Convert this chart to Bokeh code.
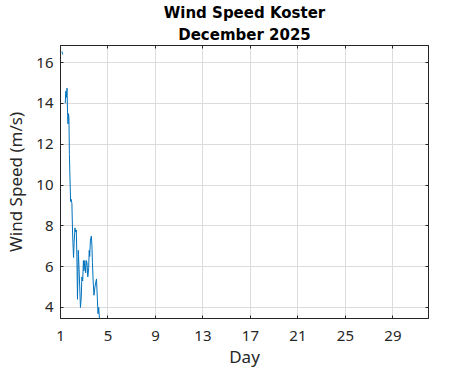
import numpy as np
from bokeh.plotting import figure
from bokeh.models import LinearAxis, Range1d, FixedTicker, Title
from bokeh.embed import file_html
from bokeh.resources import INLINE

nan = float("nan")
days = [1.12, 1.19, nan, 1.40, 1.45, 1.50, 1.55, 1.60, 1.63, 1.67, 1.71, 1.75, 1.80,
        1.85, 1.90, 1.96, 2.02, 2.10, 2.15, 2.22, 2.27, 2.33, 2.38, 2.43, 2.50, 2.55,
        2.62, 2.68, 2.75, 2.80, 2.87, 2.93, 2.98, 3.05, 3.12, 3.18, 3.23, 3.30, 3.37,
        3.42, 3.46, 3.52, 3.60, 3.65, 3.69, 3.75, 3.82, 3.90, 4.03, 4.10, 4.16, 4.22, 4.30]
speed = [16.55, 16.4, nan, 14.0, 14.6, 14.3, 14.75, 13.4, 13.0, 13.5, 13.3, 11.5, 10.3,
         9.2, 9.3, 9.1, 7.6, 6.45, 7.2, 7.9, 7.7, 7.8, 6.5, 4.4, 6.8, 6.1,
         5.0, 4.0, 4.5, 5.5, 5.3, 6.3, 5.8, 6.3, 5.7, 6.3, 6.2, 5.5, 5.9,
         6.8, 6.5, 7.3, 7.5, 7.0, 6.2, 5.3, 4.6, 5.0, 5.4, 4.5, 3.7, 4.0, 3.3]
x_ticks = [1, 5, 9, 13, 17, 21, 25, 29]
y_ticks = [4, 6, 8, 10, 12, 14, 16]

p = figure(width=471, height=371, output_backend="svg", toolbar_location=None,
           x_range=Range1d(1, 32), y_range=Range1d(3.46, 16.84),
           min_border_left=60, min_border_right=43, min_border_top=45, min_border_bottom=53)
p.background_fill_color = "white"
p.border_fill_color = "white"
p.outline_line_color = "#262626"
p.outline_line_width = 1

p.line(days, speed, line_color="#0072BD", line_width=1)

axis_color = "#262626"
for ax in [p.xaxis[0], p.yaxis[0]]:
    ax.major_tick_in = 3
    ax.major_tick_out = 0
    ax.minor_tick_line_color = None
    ax.axis_line_color = axis_color
    ax.major_tick_line_color = axis_color
    ax.major_label_text_color = axis_color
    ax.major_label_text_font = "Noto Sans"
    ax.major_label_text_font_size = "15px"
    ax.axis_label_text_font = "Noto Sans"
    ax.axis_label_text_font_size = "17px"
    ax.axis_label_text_font_style = "normal"
    ax.axis_label_text_color = axis_color

p.xaxis[0].ticker = FixedTicker(ticks=x_ticks)
p.yaxis[0].ticker = FixedTicker(ticks=y_ticks)
p.xaxis[0].axis_label = "Day"
p.yaxis[0].axis_label = "Wind Speed (m/s)"
p.xaxis[0].major_label_standoff = 12
p.yaxis[0].major_label_standoff = 7
p.xaxis[0].axis_label_standoff = 1
p.yaxis[0].axis_label_standoff = 6

blank_x = {t: "" for t in x_ticks}
blank_y = {t: "" for t in y_ticks}
top = LinearAxis(ticker=FixedTicker(ticks=x_ticks), major_tick_in=3, major_tick_out=0,
                 minor_tick_line_color=None, major_label_overrides=blank_x,
                 major_label_standoff=0,
                 axis_line_color=axis_color, major_tick_line_color=axis_color)
right = LinearAxis(ticker=FixedTicker(ticks=y_ticks), major_tick_in=3, major_tick_out=0,
                   minor_tick_line_color=None, major_label_overrides=blank_y,
                   major_label_standoff=0,
                   axis_line_color=axis_color, major_tick_line_color=axis_color)
p.add_layout(top, "above")
p.add_layout(right, "right")

p.xgrid.ticker = FixedTicker(ticks=x_ticks)
p.ygrid.ticker = FixedTicker(ticks=y_ticks)
p.grid.grid_line_color = "#dcdcdc"
p.grid.grid_line_width = 1

t2 = Title(text="December 2025", align="center", text_font="DejaVu Sans",
           text_font_size="15px", text_font_style="bold", text_color="black",
           offset=0, standoff=4)
t1 = Title(text="Wind Speed Koster", align="center", text_font="DejaVu Sans",
           text_font_size="15px", text_font_style="bold", text_color="black",
           offset=0, standoff=0)
p.add_layout(t2, "above")
p.add_layout(t1, "above")

open("out.html", "w").write(file_html(p, INLINE))
